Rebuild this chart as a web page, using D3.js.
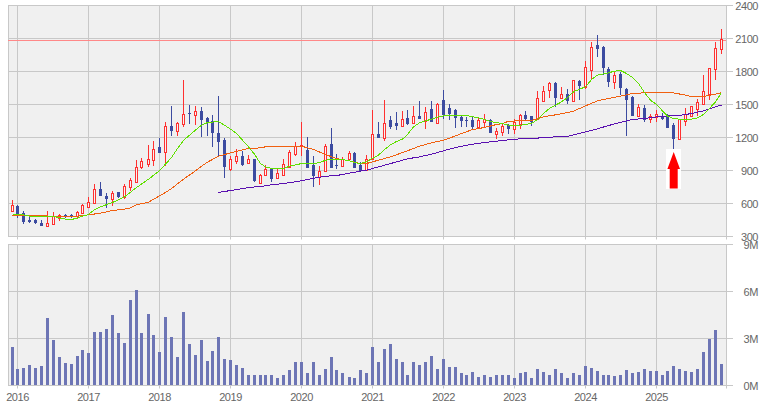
<!DOCTYPE html>
<html lang="en">
<head>
<meta charset="UTF-8">
<title>Monthly candlestick chart</title>
<script src="https://d3js.org/d3.v7.min.js"></script>
<style>
    html, body { margin: 0; padding: 0; background: #fff; }
    svg { display: block; }
    text { font-family: "Liberation Sans", Arial, sans-serif; font-size: 11px; letter-spacing: -0.45px; fill: #666; }
</style>
</head>
<body>
<svg id="chart" width="763" height="409"></svg>
<script>
// monthly candles, Dec 2015 to Dec 2025
const opens = [530,576,518,448,448,427,397,415,464,500,491,482,512,570,603,730,667,642,703,655,752,797,930,960,997,1112,1070,1309,1257,1327,1424,1403,1445,1376,1348,1239,1175,912,985,1030,966,
    1003,788,858,912,833,861,936,1051,1121,1085,948,839,900,1139,948,939,1003,1058,948,903,1003,1230,1194,1357,1330,1303,1376,1330,1394,1348,1458,1330,1539,1467,1448,1385,1357,1357,1294,1339,1357,1230,
    1252,1318,1276,1327,1403,1391,1364,1530,1633,1691,1561,1600,1536,1718,1655,1818,2039,2021,1821,1703,1776,1639,1572,1394,1467,1367,1385,1394,1394,1312,1188,1352,1394,1458,1503,1594,1821,2003];
const highs = [630,585,530,491,458,448,530,521,503,509,509,536,594,655,776,794,694,718,709,776,836,1000,1018,1130,1167,1194,1345,1485,1345,1720,1494,1485,1476,1385,1403,1576,1194,1030,1100,1076,1040,
    1003,870,948,927,927,1009,1082,1157,1339,1203,1030,939,1139,1285,1048,1021,1076,1067,976,1040,1448,1339,1539,1394,1430,1439,1448,1485,1530,1476,1530,1512,1630,1503,1457,1394,1385,1394,1385,1414,1367,1285,
    1336,1324,1364,1412,1439,1394,1621,1667,1709,1703,1655,1645,1727,1721,1891,2067,2130,2030,1839,1803,1800,1648,1575,1503,1494,1412,1448,1421,1412,1330,1367,1467,1485,1548,1767,1833,2067,2185];
const lows = [530,470,418,427,412,394,388,406,442,467,464,458,503,558,594,667,558,576,652,642,712,794,915,930,939,1060,939,1212,1212,1300,1327,1312,1203,1212,1112,1030,830,894,957,939,960,
    797,785,848,797,821,861,927,1030,1030,921,748,767,894,921,912,939,985,921,891,894,994,1194,1167,1276,1267,1303,1312,1327,1367,1276,1339,1330,1367,1357,1285,1294,1294,1275,1285,1294,1239,1185,
    1215,1230,1236,1276,1358,1306,1358,1524,1555,1473,1555,1509,1530,1539,1645,1736,1936,1767,1657,1639,1585,1212,1394,1385,1342,1330,1339,1358,1285,1094,1188,1306,1388,1394,1500,1539,1721,1957];
const closes = [585,494,430,436,421,394,427,482,491,479,482,527,582,618,730,667,639,691,655,755,812,936,982,1009,1100,1060,1309,1257,1336,1418,1412,1445,1357,1339,1239,1157,930,1003,1030,948,1003,
    803,855,918,824,873,955,1064,1127,1136,921,848,894,1121,921,939,1003,1058,921,891,1003,1230,1194,1330,1294,1303,1367,1321,1394,1367,1430,1339,1503,1403,1412,1376,1348,1348,1294,1357,1367,1239,1257,
    1303,1279,1342,1400,1364,1342,1555,1627,1691,1555,1600,1536,1727,1667,1845,2027,2006,1830,1703,1767,1648,1539,1394,1476,1358,1394,1412,1367,1285,1185,1367,1412,1485,1521,1621,1830,2012,2094];

// volume in millions
const volumes = [2.45,1.04,1.1,1.3,1.1,1.23,4.3,2.9,1.8,1.43,1.36,1.87,2.26,2.06,3.4,3.4,3.6,4.5,3.34,2.7,5.45,6.08,3.34,4.55,3.2,2.13,4.36,3.08,1.8,4.68,2.64,1.94,2.9,1.55,2.2,3.08,1.68,1.62,1.3,1.1,0.66,
    0.7,0.64,0.64,0.7,0.51,0.7,1.02,1.53,1.53,0.77,1.47,0.7,1.08,1.85,0.96,0.77,0.57,0.51,1.02,0.77,2.43,1.47,2.36,2.68,1.66,1.47,0.7,1.47,1.34,1.47,1.91,1.08,1.66,1.15,1.21,0.77,0.64,0.83,0.57,0.7,0.57,0.7,
    0.7,0.64,0.51,0.77,0.83,0.51,1.03,0.83,0.7,1.03,0.77,0.51,0.77,0.7,1.22,1.09,0.9,0.7,0.64,0.58,0.7,0.96,0.77,0.83,1.03,0.9,0.9,0.7,0.9,1.22,1.03,0.9,0.83,1.03,2.12,2.96,3.53,1.35];

// moving averages read at these month indexes
const shortIdx = [0,2,3,5,7,9,10,11,12,13,14,15,17,19,21,23,25,26,27,28,29,30,31,32,33,35,36,37,38,39,40,41,42,43,44,46,47,48,49,51,52,53,54,56,57,58,59,60,61,62,63,64,65,66,67,68,69,70,71,72,73,75,77,79,80,81,82,83,84,86,88,89,90,91,92,93,94,95,96,97,98,99,101,102,103,104,105,106,107,108,109,110,111,112,113,115,116,117,118,119,120];
const shortVal = [497,497,485,482,482,458,455,467,485,500,545,570,609,660,745,821,897,958,1018,1100,1173,1221,1267,1312,1336,1345,1312,1276,1236,1176,1115,1048,963,933,918,918,939,951,963,966,970,994,1000,1000,988,973,963,979,1012,1040,1091,1133,1164,1185,1227,1297,1333,1351,1367,1385,1397,1400,1400,1379,1364,1345,1336,1327,1312,1312,1327,1364,1418,1464,1494,1524,1564,1615,1639,1661,1727,1767,1788,1803,1809,1782,1745,1691,1609,1539,1500,1442,1394,1373,1367,1367,1379,1409,1464,1524,1609];
const midIdx = [0,5,7,9,11,13,15,17,19,20,21,23,25,26,27,29,31,32,33,35,37,39,40,41,43,46,49,51,53,55,57,59,60,62,64,67,69,71,73,74,76,78,80,82,83,84,88,90,92,95,97,99,101,103,105,107,109,112,114,115,117,119,120];
const midVal = [491,488,485,482,485,497,512,536,548,561,588,612,670,700,736,821,897,939,976,1030,1060,1088,1100,1100,1115,1121,1121,1091,1045,1009,988,963,963,994,1024,1079,1121,1151,1176,1194,1236,1272,1291,1318,1327,1348,1355,1388,1406,1439,1488,1533,1555,1576,1600,1606,1612,1606,1585,1573,1573,1594,1609];
const longIdx = [35,37,39,40,41,42,44,46,49,51,53,55,59,60,62,64,67,69,71,73,75,78,80,83,85,88,92,94,97,99,101,105,107,110,113,115,117,119,120];
const longVal = [700,718,736,745,750,754,770,782,806,830,848,854,894,903,933,963,1006,1024,1048,1079,1109,1139,1154,1173,1185,1191,1206,1209,1252,1279,1309,1364,1373,1394,1400,1418,1442,1479,1494];

const priceTicks = [300,600,900,1200,1500,1800,2100,2400];
const volTicks = [0,3,6,9];
const yearLabels = [2016,2017,2018,2019,2020,2021,2022,2023,2024,2025];
const refPrice = 2082;   // horizontal red line
const markIndex = 112;   // arrow month, Apr 2025

const svg = d3.select("#chart");
const left = 8, right = 726;
const gridCol = "#c8c8c8";

// first candle sits just inside Dec 2015, the rest on the month start
const months = [new Date(Date.UTC(2015, 11, 2))].concat(d3.utcMonth.range(new Date(Date.UTC(2016, 0, 1)), new Date(Date.UTC(2026, 0, 1))));
const x = d3.scaleUtc().domain([new Date(Date.UTC(2016, 0, 1)), new Date(Date.UTC(2025, 11, 1))]).range([17.9, 721.3]);
const px = i => Math.floor(x(months[i]));
const yearX = d => Math.floor(x(new Date(Date.UTC(d, 0, 1))));
const yP = d3.scaleLinear().domain([300, 2400]).range([236.5, 5.5]);
const yV = d3.scaleLinear().domain([0, 9]).range([385.5, 244.5]);

function panel(y, ticks, fmt) {
    const top = y.range()[1], bottom = y.range()[0];
    svg.append("rect").attr("x", left).attr("y", top).attr("width", right - left).attr("height", bottom - top).attr("fill", "#f0f0f0");
    const g = svg.append("g").attr("stroke", gridCol).attr("stroke-width", 1);
    g.selectAll(".h").data(ticks).enter().append("line")
        .attr("x1", left).attr("x2", right + 7)
        .attr("y1", d => y(d)).attr("y2", d => y(d));
    g.selectAll(".v").data(yearLabels).enter().append("line")
        .attr("x1", d => yearX(d) + 0.5).attr("x2", d => yearX(d) + 0.5)
        .attr("y1", top).attr("y2", bottom + 3);
    g.append("line").attr("x1", left + 0.5).attr("x2", left + 0.5).attr("y1", top).attr("y2", bottom);
    g.append("line").attr("x1", right + 0.5).attr("x2", right + 0.5).attr("y1", top).attr("y2", bottom + 3);
    svg.selectAll(null).data(ticks).enter().append("text")
        .attr("x", 758).attr("y", d => y(d) + 4).attr("text-anchor", "end")
        .text(fmt);
}
panel(yP, priceTicks, d => d);
panel(yV, volTicks, d => d + "M");

// year labels under volume panel
svg.selectAll(".yr").data(yearLabels).enter().append("text")
    .attr("x", d => yearX(d) + 0.5).attr("y", 401).attr("text-anchor", "middle")
    .text(d => d);

// reference line
svg.append("line").attr("x1", left).attr("x2", right)
    .attr("y1", Math.floor(yP(refPrice)) + 0.5).attr("y2", Math.floor(yP(refPrice)) + 0.5)
    .attr("stroke", "#ff8888").attr("stroke-width", 1.2);

// volume bars
svg.selectAll(".vol").data(volumes).enter().append("rect")
    .attr("x", (d, i) => px(i) - 1)
    .attr("width", 3)
    .attr("y", d => Math.round(yV(d)))
    .attr("height", d => 385 - Math.round(yV(d)))
    .attr("fill", "#6d75b5");

// candles
const candles = svg.append("g");
opens.forEach((o, i) => {
    const c = closes[i], up = c >= o;
    const cx = px(i) + 0.5;
    const col = up ? "#ff3030" : "#3c4ba0";
    candles.append("line").attr("x1", cx).attr("x2", cx)
        .attr("y1", Math.round(yP(highs[i]))).attr("y2", Math.round(yP(lows[i])))
        .attr("stroke", col);
    const top = Math.round(yP(Math.max(o, c))), bot = Math.round(yP(Math.min(o, c)));
    if (up) {
        candles.append("rect").attr("x", cx - 1).attr("width", 2)
            .attr("y", top + 0.5).attr("height", Math.max(bot - top, 1))
            .attr("fill", "#f4f4f4").attr("stroke", col);
    } else {
        candles.append("rect").attr("x", cx - 1.5).attr("width", 3)
            .attr("y", top).attr("height", Math.max(bot - top, 1))
            .attr("fill", col);
    }
});

// moving averages
const maLine = d3.line();
function drawMa(idx, val, col) {
    svg.append("path")
        .attr("d", maLine(idx.map((d, i) => [px(d) + 0.5, yP(val[i])])))
        .attr("fill", "none").attr("stroke", col).attr("stroke-width", 1)
        .attr("shape-rendering", "crispEdges");
}
drawMa(longIdx, longVal, "#5a10b0");
drawMa(midIdx, midVal, "#f06010");
drawMa(shortIdx, shortVal, "#60e000");

// arrow over the low candle
const ax = px(markIndex) + 0.7;
svg.append("rect").attr("x", ax - 7.7).attr("y", 149).attr("width", 15).attr("height", 40).attr("fill", "#fff");
svg.append("path")
    .attr("d", d3.line()([[ax, 152], [ax + 6.3, 169], [ax + 4, 169], [ax + 4, 188.5], [ax - 4, 188.5], [ax - 4, 169], [ax - 6.3, 169]]) + "Z")
    .attr("fill", "#ff0000");
</script>
</body>
</html>
